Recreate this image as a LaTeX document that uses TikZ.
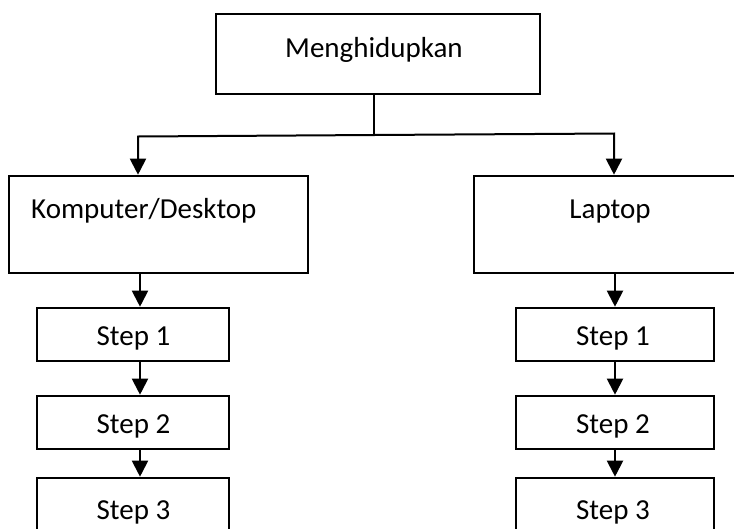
\documentclass[tikz,border=0pt]{standalone}
\usepackage{fontspec}
\setmainfont{Carlito}
\usetikzlibrary{arrows.meta}
\begin{document}
\begin{tikzpicture}[x=1pt,y=-1pt,
 box/.style={draw=black,line width=2.6pt,minimum height=53pt,minimum width=192pt,inner sep=0pt,anchor=center},
 lbl/.style={font=\fontsize{29}{33}\selectfont,inner sep=0pt,anchor=base},
 arr/.style={line width=2pt,-{Triangle[width=16pt,length=16pt]}},
 ln/.style={line width=2pt}]
\useasboundingbox (0,0) rectangle (734,528);
\clip (0,0) rectangle (734,528);
% boxes
\node[box,minimum width=324pt,minimum height=80pt] (top) at (378,54) {};
\node[box,minimum width=299pt,minimum height=97pt] (lbox) at (158.5,224.5) {};
\node[box,minimum width=276pt,minimum height=97pt] (rbox) at (612,224.5) {};
\node[box] (ls1) at (133,334.5) {};
\node[box] (ls2) at (133,422.5) {};
\node[box,minimum height=62pt] (ls3) at (133,509) {};
\node[box,minimum width=198pt] (rs1) at (615,334.5) {};
\node[box,minimum width=198pt] (rs2) at (615,422.5) {};
\node[box,minimum width=198pt,minimum height=62pt] (rs3) at (615,509) {};
% texts
\node[lbl] (ttop) at (374,57) {Menghidupkan};
\node[lbl,anchor=base west] (tl) at (31,218) {Komputer/Desktop};
\node[lbl] (tr) at (610,218) {Laptop};
\node[lbl] (tl1) at (133.5,345.5) {Step 1};
\node[lbl] (tl2) at (133.5,433.5) {Step 2};
\node[lbl] (tl3) at (133.5,519) {Step 3};
\node[lbl] (tr1) at (613,345.5) {Step 1};
\node[lbl] (tr2) at (613,433.5) {Step 2};
\node[lbl] (tr3) at (613,519) {Step 3};
% connectors
\coordinate (jn) at (374,135);
\coordinate (jl) at (138,136.5);
\coordinate (jr) at (614,133.5);
\coordinate (lx) at (140,0);
\coordinate (rx) at (615,0);
\draw[ln] (top.south -| jn) -- (jn);
\draw[arr] (jn) -- (jl) -- (jl |- lbox.north);
\draw[arr] (jn) -- (jr) -- (jr |- rbox.north);
\draw[arr] (lx |- lbox.south) -- (lx |- ls1.north);
\draw[arr] (lx |- ls1.south) -- (lx |- ls2.north);
\draw[arr] (lx |- ls2.south) -- (lx |- ls3.north);
\draw[arr] (rx |- rbox.south) -- (rx |- rs1.north);
\draw[arr] (rx |- rs1.south) -- (rx |- rs2.north);
\draw[arr] (rx |- rs2.south) -- (rx |- rs3.north);
\end{tikzpicture}
\end{document}
